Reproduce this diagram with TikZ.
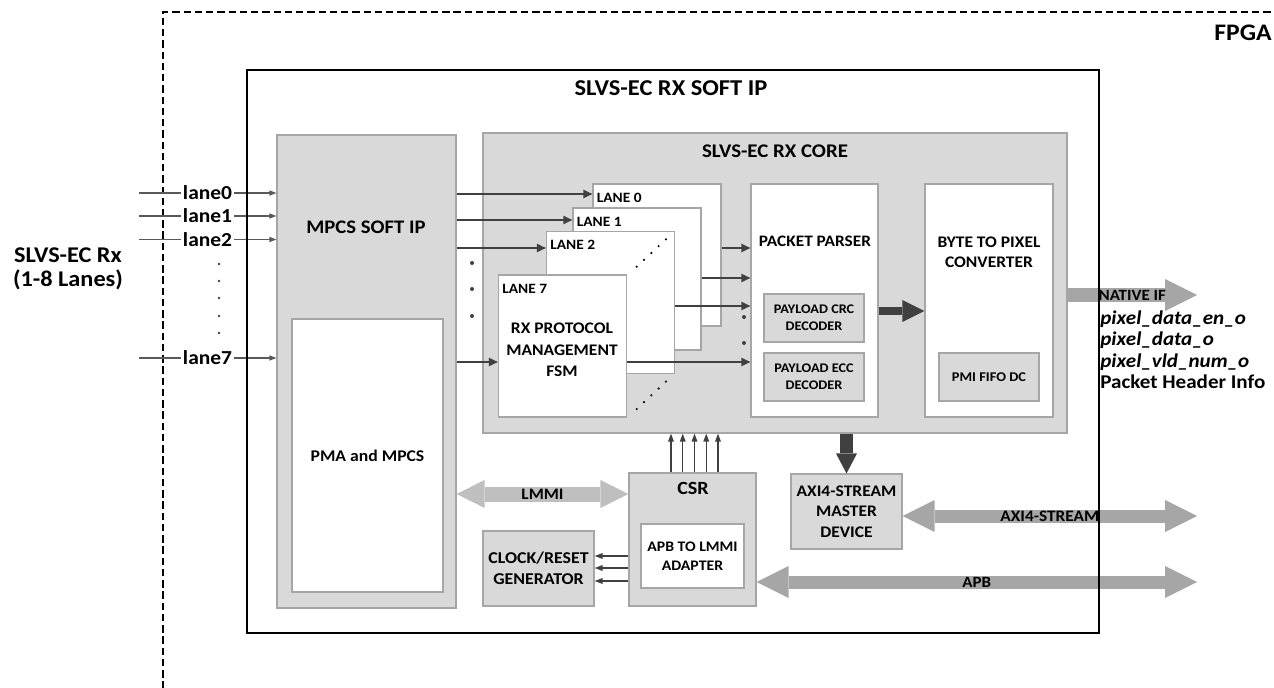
\documentclass[tikz,border=0pt]{standalone}
\usepackage{fontspec}
\setmainfont{Carlito}[FakeStretch=1.08]
\usepackage{tikz}
\usetikzlibrary{arrows.meta,positioning}
\definecolor{boxgray}{HTML}{D9D9D9}
\definecolor{edgegray}{HTML}{A6A6A6}
\definecolor{busgray}{HTML}{A6A6A6}
\definecolor{lmmigray}{HTML}{BFBFBF}
\definecolor{darkline}{HTML}{404040}
\definecolor{wiregray}{HTML}{595959}
\newcommand{\bsz}[2]{\bfseries\fontsize{#1}{#2}\selectfont}

\begin{document}
\begin{tikzpicture}[x=0.2mm, y=-0.2mm,
  every node/.style={font=\bsz{9}{11}, align=center, inner sep=0pt},
  graybox/.style={draw=edgegray, fill=boxgray, line width=0.6pt},
  whitebox/.style={draw=edgegray, fill=white, line width=0.6pt},
  lanebox/.style={whitebox, minimum width=25.6mm, minimum height=28.4mm},
  lanetag/.style={font=\bsz{8.1}{9}},
  decbox/.style={graybox, minimum width=20mm, minimum height=9.6mm, font=\bsz{7.5}{9.7}},
  wire/.style={draw=wiregray, line width=0.6pt, -{Triangle[length=1.4mm, width=1mm]}},
  lanearrow/.style={draw=darkline, line width=1.1pt, -{Triangle[length=1.8mm, width=1.6mm]}},
  ctlarrow/.style={draw=darkline, line width=0.8pt, -{Triangle[length=1.6mm, width=1.1mm]}},
  bus/.style={draw=busgray, line width=2.6mm, >={Triangle[length=6.4mm, width=6.4mm, line width=0pt]}},
]
\useasboundingbox (0,0) rectangle (1274,688);
\clip (0,0) rectangle (1274,688);

\draw[dashed, dash pattern=on 4.2pt off 2.2pt, line width=1.1pt] (163,700) -- (163,12) -- (1290,12);
\node[anchor=west, font=\bsz{13.5}{15}] (fpga) at (1214,32.5) {FPGA};
\node[font=\bsz{12.8}{13.6}] (rx) at (68,269) {SLVS-EC Rx\\(1-8 Lanes)};

\node[font=\bsz{12.9}{14}] (softiptitle) at (671,88.5) {SLVS-EC RX SOFT IP};

\node[graybox, minimum width=35.8mm, minimum height=94.6mm] (mpcs) at (366.5,371.5) {};
\node[font=\bsz{10.9}{13}] (mpcstitle) at (366,227) {MPCS SOFT IP};
\node[whitebox, minimum width=30.2mm, minimum height=54.6mm, font=\bsz{9.3}{11}] (pma) at (367.5,455.5) {PMA and MPCS};

\node[graybox, minimum width=116.8mm, minimum height=60mm] (core) at (775,283) {};
\node[font=\bsz{11}{12}] (coretitle) at (775,151.5) {SLVS-EC RX CORE};

\node[lanebox] (lane0) at (657,255) {};
\node[lanetag, below right=1.8mm and 0.8mm of lane0.north west] (tag0) {LANE 0};
\node[lanebox] (lane1) at (637,279) {};
\node[lanetag, below right=1.8mm and 0.8mm of lane1.north west] (tag1) {LANE 1};
\node[lanebox] (lane2) at (610.5,302.5) {};
\node[lanetag, below right=1.8mm and 0.8mm of lane2.north west] (tag2) {LANE 2};
\node[lanebox] (lane7) at (562.5,346) {};
\node[lanetag, below right=1.8mm and 0.8mm of lane7.north west] (tag7) {LANE 7};
\node[font=\bsz{9.2}{12.2}] (fsm) at (562,350) {RX PROTOCOL\\MANAGEMENT\\FSM};

\node[whitebox, minimum width=25.4mm, minimum height=46.6mm] (parser) at (814.5,300.5) {};
\node[font=\bsz{9.1}{11}] (parsertitle) at (815,241) {PACKET PARSER};
\node[decbox] (crc) at (814,318) {PAYLOAD CRC\\DECODER};
\node[decbox] (ecc) at (814,377) {PAYLOAD ECC\\DECODER};

\node[whitebox, minimum width=25.6mm, minimum height=46.6mm] (b2p) at (989,300.5) {};
\node[font=\bsz{9.2}{11.3}] (b2ptitle) at (989,252) {BYTE TO PIXEL\\CONVERTER};
\node[decbox, font=\bsz{7.6}{10}] (pmi) at (989,377) {PMI FIFO DC};

\node[graybox, minimum width=25.4mm, minimum height=26.6mm] (csr) at (692.5,539.5) {};
\node[font=\bsz{10.6}{13}] (csrtitle) at (693,488) {CSR};
\node[whitebox, minimum width=20.6mm, minimum height=12.8mm, font=\bsz{8.3}{10.8}] (adapter) at (692.5,556) {APB TO LMMI\\ADAPTER};
\node[graybox, minimum width=22.2mm, minimum height=15mm, font=\bsz{9.4}{11.9}] (clk) at (538.5,568.5) {CLOCK/RESET\\GENERATOR};
\node[graybox, minimum width=22.2mm, minimum height=15mm, font=\bsz{9.2}{11.6}] (axim) at (846.5,511.5) {AXI4-STREAM\\MASTER\\DEVICE};

\foreach \n/\y in {0/193,1/216,2/239.5,7/358} {
  \coordinate (in\n) at (139,\y);
  \node[font=\bsz{11.3}{12}, inner sep=1pt] (l\n) at (207.5,\y) {lane\n};
  \draw[wire] (in\n) -- (l\n) -- (mpcs.west |- l\n);
}
\foreach \y in {264,281,298,316,333} \fill[darkline] (219,\y) circle (1.4);

\draw[lanearrow] (mpcs.east |- 0,194) -- (lane0.west |- 0,194);
\draw[lanearrow] (mpcs.east |- 0,220) -- (lane1.west |- 0,220);
\draw[lanearrow] (mpcs.east |- 0,248) -- (lane2.west |- 0,248);
\draw[lanearrow] (mpcs.east |- 0,362) -- (lane7.west |- 0,362);
\foreach \y in {263,289,316} \fill[darkline] (472,\y) circle (2);

\draw[lanearrow] (lane0.east |- 0,248) -- (parser.west |- 0,248);
\draw[lanearrow] (lane1.east |- 0,278) -- (parser.west |- 0,278);
\draw[lanearrow] (lane2.east |- 0,306) -- (parser.west |- 0,306);
\draw[lanearrow] (lane7.east |- 0,362) -- (parser.west |- 0,362);
\foreach \y in {317,343} \fill[darkline] (744,\y) circle (2);
\foreach \i in {0,...,4} {
  \fill (636.7+7.3*\i,266.7-6.85*\i) circle (1.2);
  \fill (636.7+7.3*\i,409-6.85*\i) circle (1.2);
}

\draw[draw=darkline, line width=1.6mm, -{Triangle[length=4.4mm, width=4.4mm, line width=0pt]}] ([yshift=-2.1mm]parser.east) -- ([yshift=-2.1mm]b2p.west);
\draw[draw=darkline, line width=2.6mm, -{Triangle[length=4mm, width=4.2mm, line width=0pt]}] (axim.north |- core.south) -- (axim.north);

\foreach \i in {0,...,4}
  \draw[ctlarrow] ([xshift=-4.3mm+\i*2.35mm]csr.north) -- ([xshift=-4.3mm+\i*2.35mm]csr.north |- core.south);
\foreach \y in {556,568,581} \draw[ctlarrow] (csr.west |- 0,\y) -- (clk.east |- 0,\y);

\draw[bus, draw=lmmigray, line width=3mm, >={Triangle[length=5.6mm, width=5.6mm, line width=0pt]}, <->] (mpcs.east |- 0,494) -- node[font=\bsz{9.1}{11}] (lmmi) {LMMI} (csr.west |- 0,494);

\coordinate (natout) at (1197,295);
\coordinate (axiout) at (1197,516);
\coordinate (apbout) at (1197,582);
\draw[bus, line width=2.8mm, ->] (core.east |- natout) -- node[font=\bsz{8.9}{10}] (native) {NATIVE IF} (natout);
\draw[bus, <->] (axim.east |- axiout) -- node[font=\bsz{9.1}{12}] (axilbl) {AXI4-STREAM} (axiout);
\draw[bus, <->] (csr.east |- apbout) -- node[font=\bsz{8.9}{11}] (apblbl) {APB} (apbout);

\node[anchor=north west, align=left, font=\bsz{11.1}{12.3}] (sigs) at (1100,310) {\textit{pixel\_data\_en\_o}\\\textit{pixel\_data\_o}\\\textit{pixel\_vld\_num\_o}\\Packet Header Info};

\node[draw=black, line width=0.8pt, minimum width=170.4mm, minimum height=112.6mm] (softip) at (673,351.5) {};
\end{tikzpicture}
\end{document}
